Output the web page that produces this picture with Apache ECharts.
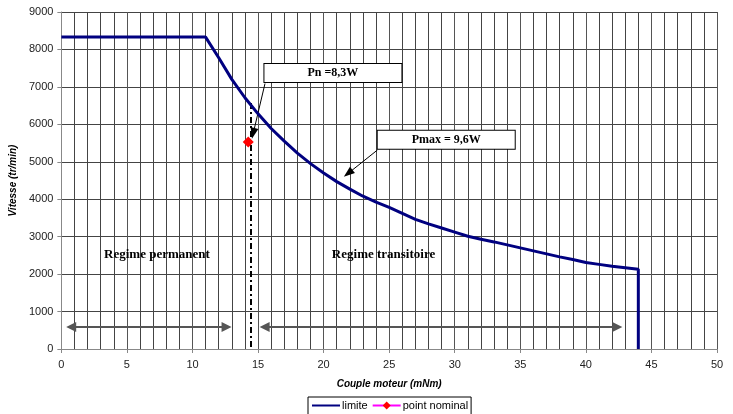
<!DOCTYPE html>
<html>
<head>
<meta charset="utf-8">
<script src="https://cdn.jsdelivr.net/npm/echarts@6/dist/echarts.min.js"></script>
<style>
  html, body { margin: 0; padding: 0; background: #fff; }
  #chart { width: 733px; height: 414px; }
</style>
</head>
<body>
<div id="chart"></div>
<script>
// couple (mNm) / vitesse (tr/min)
var couple = [0, 11, 12, 13, 14, 15, 16, 17, 18, 19, 20, 21, 22, 23, 24, 25, 26, 27, 28, 29, 30,
              31, 32, 33, 34, 35, 36, 37, 38, 39, 40, 41, 42, 43, 44, 44];
var vitesse = [8330, 8330, 7780, 7200, 6710, 6280, 5890, 5550, 5230, 4950, 4700, 4470, 4270, 4080, 3920, 3780, 3620, 3460, 3340, 3230, 3120,
               3010, 2930, 2860, 2780, 2700, 2620, 2540, 2460, 2390, 2310, 2260, 2210, 2170, 2130, 0];
var pointNominal = [14.25, 5530];
var pnLine = [14.45, 6570];

var limiteData = couple.map(function (c, i) { return [c, vitesse[i]]; });

var serif = '"Liberation Serif", "DejaVu Serif", serif';
var sans = '"Liberation Sans", Arial, sans-serif';

function boxLabel(txt) {
    return {
        show: true,
        position: 'inside',
        formatter: txt,
        fontFamily: serif,
        fontWeight: 'bold',
        fontSize: 12,
        color: '#000',
        backgroundColor: '#fff',
        borderColor: '#000',
        borderWidth: 1,
        width: 129,
        height: 13,
        align: 'center',
        padding: [3, 4, 2, 4]
    };
}

function freeLabel(txt) {
    return {
        show: true,
        position: 'inside',
        formatter: txt,
        fontFamily: serif,
        fontWeight: 'bold',
        fontSize: 13,
        color: '#000'
    };
}

var myChart = echarts.init(document.getElementById('chart'));
var option = {
    animation: false,
    backgroundColor: '#fff',
    grid: {
        left: 61,
        right: 16,
        top: 12,
        bottom: 65
    },
    legend: {
        top: 397,
        left: 308,
        data: [
            { name: 'limite', itemStyle: { opacity: 0 } },
            { name: 'point nominal' }
        ],
        borderColor: '#000',
        borderWidth: 1,
        padding: [3, 3, 5, 3],
        itemWidth: 28,
        itemHeight: 10,
        itemGap: 4,
        textStyle: { fontFamily: sans, fontSize: 11, color: '#000', padding: [0, 0, 0, -3] }
    },
    xAxis: {
        type: 'value',
        min: 0,
        max: 50,
        interval: 5,
        name: 'Couple moteur (mNm)',
        nameLocation: 'middle',
        nameGap: 30,
        nameTextStyle: { fontFamily: sans, fontSize: 10, fontWeight: 'bold', fontStyle: 'italic', color: '#000' },
        axisLine: { lineStyle: { color: '#888' } },
        axisTick: { show: true, length: 4, lineStyle: { color: '#888' } },
        axisLabel: { fontFamily: sans, fontSize: 11, color: '#222', margin: 10 },
        splitLine: { show: true, lineStyle: { color: '#555', width: 1 } },
        minorTick: { show: false, splitNumber: 5 },
        minorSplitLine: { show: true, lineStyle: { color: '#444', width: 1 } }
    },
    yAxis: {
        type: 'value',
        min: 0,
        max: 9000,
        interval: 1000,
        name: 'Vitesse (tr/min)',
        nameLocation: 'middle',
        nameGap: 43,
        nameTextStyle: { fontFamily: sans, fontSize: 10, fontWeight: 'bold', fontStyle: 'italic', color: '#000' },
        axisLine: { show: true, lineStyle: { color: '#888' } },
        axisTick: { show: true, length: 4, lineStyle: { color: '#888' } },
        axisLabel: { fontFamily: sans, fontSize: 11, color: '#222', margin: 8, formatter: function (v) { return String(v); } },
        splitLine: { show: true, lineStyle: { color: '#444', width: 1 } }
    },
    series: [
        {
            name: 'limite',
            type: 'line',
            symbol: 'none',
            data: limiteData,
            lineStyle: { color: '#000080', width: 3 },
            itemStyle: { color: '#000080' },
            z: 5,
            markLine: {
                silent: true,
                symbol: ['none', 'none'],
                label: { show: false },
                animation: false,
                data: [
                    // trait mixte du point nominal
                    [
                        { coord: pnLine, lineStyle: { color: '#000', width: 2, type: [6, 3, 2, 3] } },
                        { coord: [pnLine[0], 0] }
                    ]
                ]
            }
        },
        {
            name: 'point nominal',
            type: 'line',
            symbol: 'diamond',
            symbolSize: 11,
            data: [pointNominal],
            lineStyle: { color: '#ff00ff', width: 1 },
            itemStyle: { color: '#ff0000' },
            z: 6
        },
        {
            name: 'annotations',
            type: 'scatter',
            data: [],
            silent: true,
            markLine: {
                silent: true,
                animation: false,
                label: { show: false },
                data: [
                    // double fleches
                    [
                        { coord: [0.75, 588], symbol: 'triangle', symbolSize: [10, 10], lineStyle: { color: '#555', width: 2, type: 'solid' } },
                        { coord: [12.6, 588], symbol: 'triangle', symbolSize: [10, 10] }
                    ],
                    [
                        { coord: [15.5, 588], symbol: 'triangle', symbolSize: [10, 10], lineStyle: { color: '#555', width: 2, type: 'solid' } },
                        { coord: [42.4, 588], symbol: 'triangle', symbolSize: [10, 10] }
                    ],
                    // fleches des etiquettes
                    [
                        { coord: [15.53, 7090], symbol: 'none', lineStyle: { color: '#000', width: 1, type: 'solid' } },
                        { coord: [14.63, 5760], symbol: 'triangle', symbolSize: [8, 11] }
                    ],
                    [
                        { coord: [24.1, 5313], symbol: 'none', lineStyle: { color: '#000', width: 1, type: 'solid' } },
                        { coord: [21.87, 4690], symbol: 'triangle', symbolSize: [8, 11] }
                    ]
                ]
            },
            markPoint: {
                silent: true,
                animation: false,
                symbol: 'rect',
                symbolSize: 1,
                itemStyle: { color: 'rgba(0,0,0,0)' },
                data: [
                    { coord: [20.71, 7372], label: boxLabel('Pn =8,3W') },
                    { coord: [29.35, 5588], label: boxLabel('Pmax = 9,6W') },
                    { coord: [7.29, 2524], label: freeLabel('Regime permanent') },
                    { coord: [24.57, 2524], label: freeLabel('Regime transitoire') }
                ]
            }
        }
    ]
};
myChart.setOption(option);
</script>
</body>
</html>
